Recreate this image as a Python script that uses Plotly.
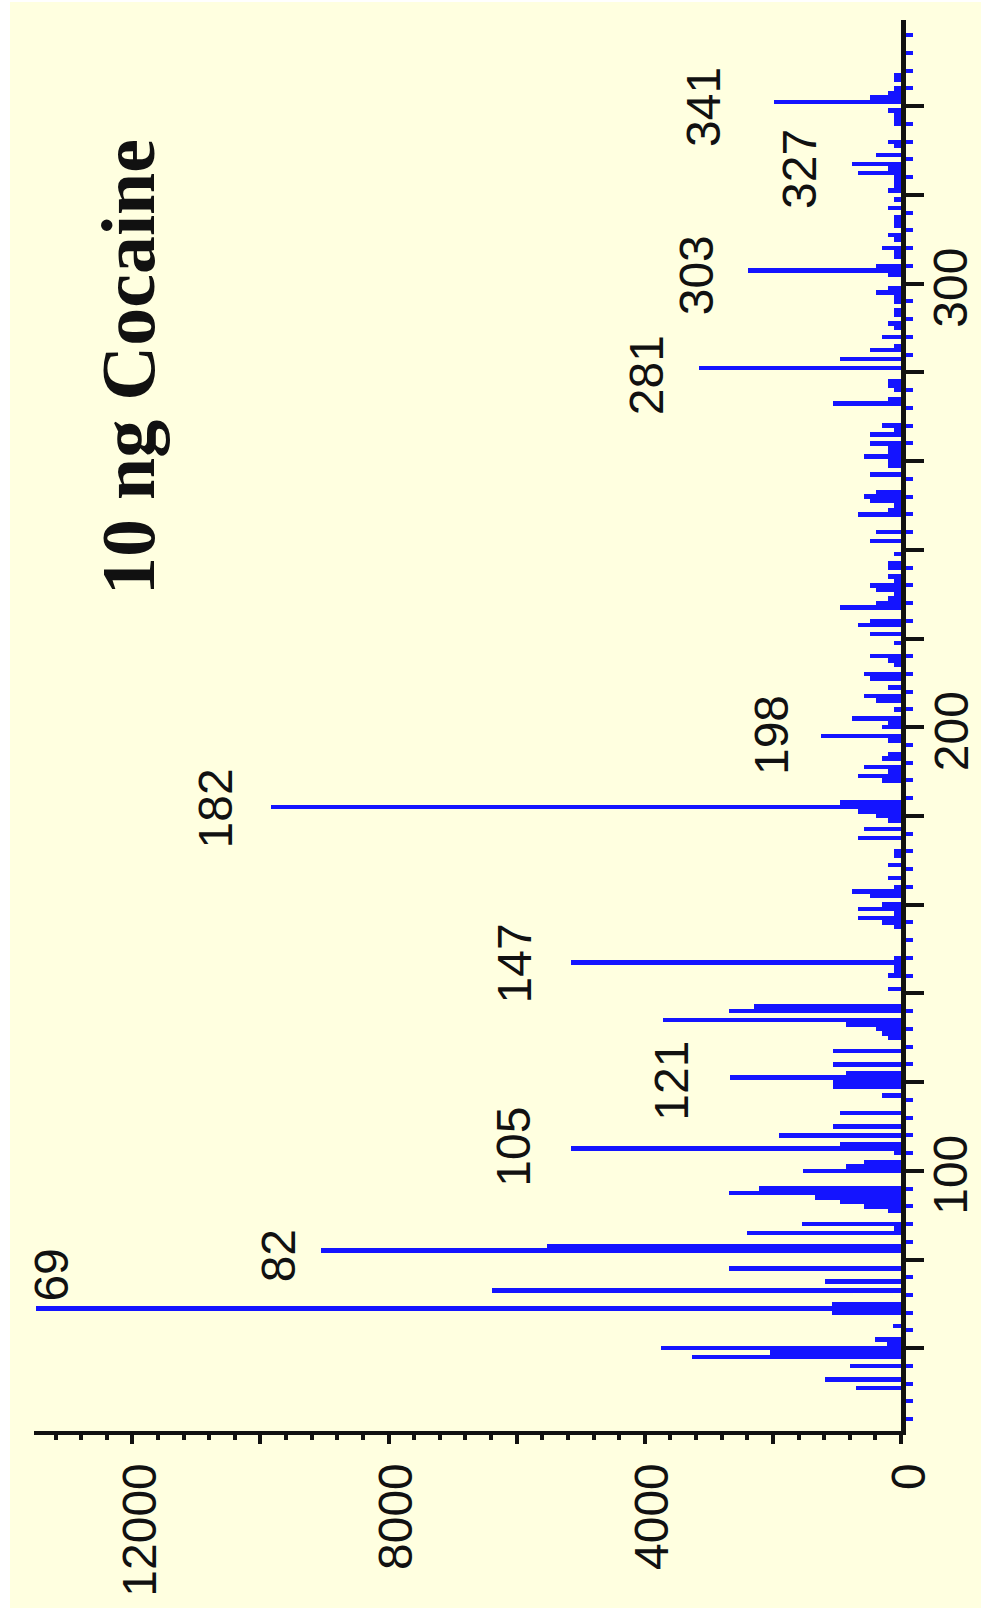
import plotly.graph_objects as go

# Mass spectrum of 10 ng cocaine: m/z and ion abundance of each line
MZ = [51, 53, 56, 58, 59, 60, 61, 62, 65, 68, 69, 70, 73, 75, 78, 82, 83, 86, 87, 88,
      91, 92, 93, 94, 95, 96, 100, 101, 102, 104, 105, 106, 108, 110, 113, 117, 119, 120,
      121, 122, 124, 127, 130, 131, 132, 133, 134, 136, 137, 141, 144, 145, 146, 147, 148,
      155, 156, 157, 158, 159, 160, 162, 163, 164, 166, 169, 171, 172, 175, 177, 179, 180,
      181, 182, 183, 188, 189, 190, 191, 193, 194, 197, 198, 200, 201, 202, 204, 206, 207,
      209, 211, 212, 214, 215, 216, 219, 221, 223, 224, 227, 228, 229, 230, 231, 232, 233,
      234, 236, 237, 239, 242, 244, 248, 249, 250, 251, 252, 253, 257, 259, 260, 261, 262,
      263, 264, 266, 267, 268, 273, 274, 276, 277, 278, 281, 283, 285, 286, 288, 290, 291,
      293, 294, 296, 297, 298, 299, 302, 303, 304, 306, 307, 308, 310, 311, 313, 314, 315,
      317, 319, 321, 322, 323, 324, 325, 326, 327, 329, 331, 332, 336, 337, 338, 339, 341,
      342, 343, 344, 346, 347]
INTENSITY = [700, 1180, 790, 3270, 2040, 3740, 220, 410, 125, 1080, 13500, 1080, 6390, 1180,
             2690, 9060, 5530, 2410, 110, 1550,
             200, 580, 950, 1340, 2690, 2220, 1530, 860, 580, 110, 5150, 950, 1900, 1060, 950,
             300, 1060, 1060,
             2670, 860, 1060, 1060, 200, 300, 390, 860, 3720, 2690, 2290, 200, 200, 110, 110,
             5150, 110,
             110, 300, 670, 110, 670, 300, 480, 765, 110, 200, 200, 110, 110, 670, 580, 200, 390,
             670, 9830, 950, 300, 670, 200, 580, 300, 200, 200, 1250, 300, 200, 765, 110, 390, 580,
             200, 480, 580, 110, 200, 480, 110, 480, 670, 480, 950, 390, 200, 110, 390, 480, 110,
             200, 200, 200, 110, 480, 390, 670, 200, 110, 480, 580, 390, 480, 200, 200, 580, 200,
             200, 480, 480, 110, 300, 1060, 200, 110, 200, 200, 3150, 950, 480, 110, 300, 110, 200,
             110, 110, 110, 110, 390, 200, 200, 2390, 390, 110, 110, 300, 110, 200, 110, 110, 110,
             200, 110, 200, 110, 110, 110, 670, 200, 765, 390, 110, 200, 110, 110, 110, 200, 1980,
             480, 200, 110, 110, 110]

PEAK_LABELS = [69, 82, 105, 121, 147, 182, 198, 281, 303, 327, 341]

INTENSITY_TICKS = [0, 2000, 4000, 6000, 8000, 10000, 12000]
INTENSITY_TICK_TEXT = ["0", "", "4000", "", "8000", "", "12000"]
MZ_TICKS = [60, 80, 100, 120, 140, 160, 180, 200, 220, 240, 260, 280, 300, 320, 340]
MZ_TICK_LABELS = [100, 200, 300]

TITLE = "10 ng Cocaine"

# pixel offsets of each peak label from the tip of its line
LABEL_SHIFT = {
    69: (15, 33), 82: (-42, -5), 105: (-58, 2), 121: (-58, -3), 147: (-57, -1),
    182: (-56, -1), 198: (-50, 1), 281: (-52, -7), 303: (-52, -5), 327: (-52, -5),
    341: (-70, -5),
}

W, H = 981, 1608
ML, MR, MT, MB = 34, 80, 20, 177
BG = "#FFFFE0"
BLUE = "#1414FF"
INK = "#111111"
SANS = "Liberation Sans Narrow, Arial Narrow, Liberation Sans, Arial, sans-serif"
SERIF = "Liberation Serif, Times New Roman, DejaVu Serif, serif"
LABEL_SIZE = 48

fig = go.Figure()
fig.add_trace(go.Bar(
    x=INTENSITY, y=MZ, orientation="h", width=1,
    marker=dict(color=BLUE, line=dict(width=0)),
    hovertemplate="m/z %{y}: %{x}<extra></extra>",
))

peak_lookup = dict(zip(MZ, INTENSITY))
annotations = []
for mz in PEAK_LABELS:
    dx, dy = LABEL_SHIFT[mz]
    annotations.append(dict(
        x=peak_lookup[mz], y=mz, xref="x", yref="y", text=str(mz),
        textangle=-90, showarrow=False, xanchor="center", yanchor="middle",
        xshift=dx, yshift=dy, font=dict(family=SANS, size=LABEL_SIZE, color=INK),
    ))

plot_w = W - ML - MR
plot_h = H - MT - MB

# m/z scale labels beside the vertical axis
for v in MZ_TICK_LABELS:
    annotations.append(dict(
        x=1, y=v, xref="paper", yref="y", text=str(v),
        textangle=-90, showarrow=False, xanchor="center", yanchor="middle",
        xshift=50, yshift=-4, font=dict(family=SANS, size=LABEL_SIZE, color=INK),
    ))

annotations.append(dict(
    x=(128 - ML) / plot_w, y=(H - MB - 367) / plot_h, xref="paper", yref="paper",
    text="<b>%s</b>" % TITLE, textangle=-90, showarrow=False,
    xanchor="center", yanchor="middle",
    font=dict(family=SERIF, size=76, color=INK),
))

fig.update_layout(
    width=W, height=H,
    margin=dict(l=ML, r=MR, t=MT, b=MB, pad=0, autoexpand=False),
    paper_bgcolor=BG, plot_bgcolor=BG,
    showlegend=False, bargap=0,
    annotations=annotations,
    shapes=[
        dict(type="rect", xref="paper", yref="paper",
             x0=-ML / plot_w, x1=(10 - ML) / plot_w,
             y0=-MB / plot_h, y1=(H - MB) / plot_h,
             fillcolor="white", line=dict(width=0)),
        dict(type="rect", xref="paper", yref="paper",
             x0=-ML / plot_w, x1=(W - ML) / plot_w,
             y0=(H - MB - 2) / plot_h, y1=(H - MB) / plot_h,
             fillcolor="white", line=dict(width=0)),
    ],
    xaxis=dict(
        range=[13536, 0], showgrid=False, zeroline=False, automargin=False,
        showline=True, linecolor=INK, linewidth=4,
        ticks="outside", tickvals=INTENSITY_TICKS, ticktext=INTENSITY_TICK_TEXT,
        ticklen=9, tickwidth=4, tickcolor=INK, tickangle=-90,
        ticklabelstandoff=0, ticklabelshift=-8,
        tickfont=dict(family=SANS, size=LABEL_SIZE, color=INK),
        minor=dict(dtick=400, tick0=0, ticks="outside", ticklen=5, tickwidth=4,
                   tickcolor=INK, showgrid=False),
    ),
    yaxis=dict(
        range=[41.34, 359.44], side="right", showgrid=False, zeroline=False,
        automargin=False, showticklabels=False,
        showline=True, linecolor=INK, linewidth=5,
        ticks="outside", tickvals=MZ_TICKS,
        ticklen=18, tickwidth=4, tickcolor=INK,
        minor=dict(dtick=4, tick0=0, ticks="outside", ticklen=7, tickwidth=4,
                   tickcolor=BLUE, showgrid=False),
    ),
)

fig.write_html("out.html")
